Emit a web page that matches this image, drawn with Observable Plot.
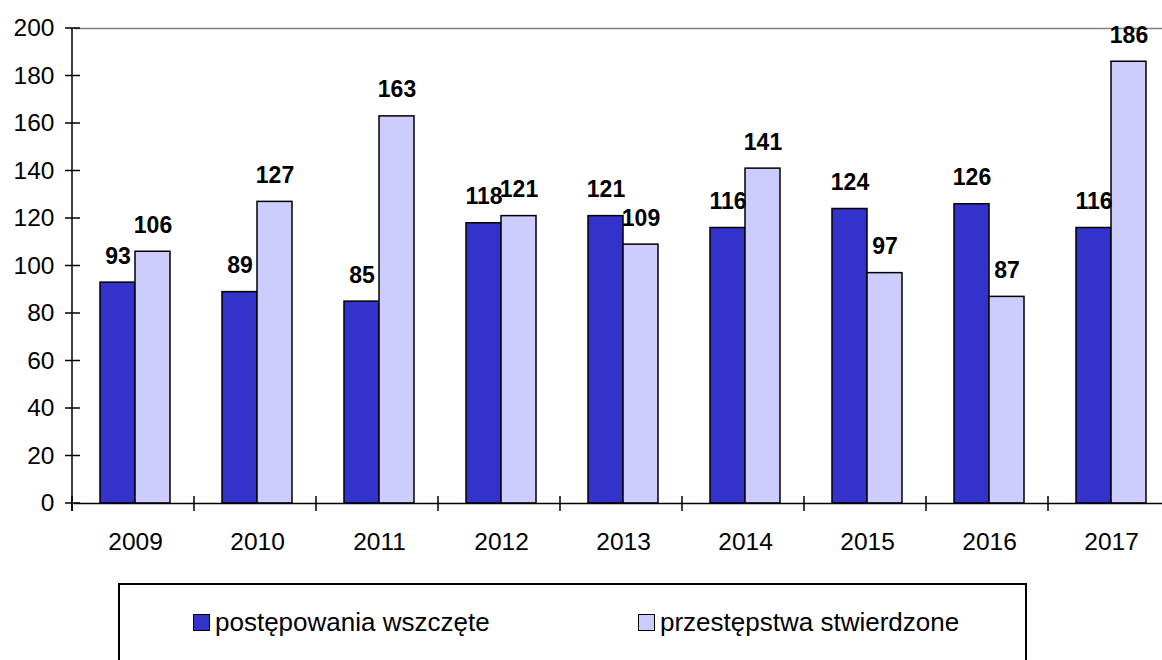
<!DOCTYPE html>
<html>
<head>
<meta charset="utf-8">
<script src="https://cdn.jsdelivr.net/npm/d3@7"></script>
<script src="https://cdn.jsdelivr.net/npm/@observablehq/plot@0.6"></script>
<style>
  html, body { margin: 0; padding: 0; background: #fff; overflow: hidden; width: 1162px; height: 660px; }
  #chart { position: absolute; left: 0; top: 0; }
  #legend { position: absolute; left: 118px; top: 583px; width: 905px; height: 120px; border: 2px solid #000; box-sizing: content-box; font-family: "Liberation Sans", Arial, sans-serif; font-size: 26px; color: #000; }
  .item { position: absolute; top: 22px; display: flex; align-items: center; white-space: nowrap; }
  .sw { width: 15px; height: 15px; border: 1.5px solid #000; margin-right: 5px; }
</style>
</head>
<body>
<div id="chart"></div>
<div id="legend"></div>
<script>
const years = ["2009", "2010", "2011", "2012", "2013", "2014", "2015", "2016", "2017"];
const seriesNames = ["postępowania wszczęte", "przestępstwa stwierdzone"];
const postepowania = [93, 89, 85, 118, 121, 116, 124, 126, 116];
const przestepstwa = [106, 127, 163, 121, 109, 141, 97, 87, 186];
const yTicks = [0, 20, 40, 60, 80, 100, 120, 140, 160, 180, 200];
const colors = ["#3333CC", "#CCCCFF"];

const data = years.flatMap((yr, i) => [
  {year: yr, series: seriesNames[0], value: postepowania[i]},
  {year: yr, series: seriesNames[1], value: przestepstwa[i]}
]);

const chart = Plot.plot({
  width: 1162,
  height: 570,
  marginLeft: 72,
  marginRight: -12.8,
  marginTop: 28,
  marginBottom: 67,
  style: {fontFamily: "'Liberation Sans', Arial, sans-serif", fontSize: "24px", color: "#000", background: "#fff", overflow: "visible"},
  fx: {domain: years, padding: 0, label: null},
  x: {domain: seriesNames, paddingInner: 0, paddingOuter: 0.726, axis: null},
  y: {domain: [0, 200], label: null},
  color: {domain: seriesNames, range: colors},
  marks: [
    Plot.ruleY([200], {stroke: "#808080", strokeWidth: 1.5}),
    Plot.barY(data, {fx: "year", x: "series", y: "value", fill: "series", stroke: "#000", strokeWidth: 1.5, inset: 0}),
    Plot.text(data, {fx: "year", x: "series", y: "value", text: d => String(d.value), fontWeight: "bold", fontSize: 23, lineAnchor: "bottom", dy: -19, fill: "#000"}),
    Plot.ruleY([0], {stroke: "#000", strokeWidth: 1.5}),
    Plot.axisY({ticks: yTicks, tickSize: 0, tickPadding: 20, label: null, fontSize: 24.5}),
    Plot.axisFx({anchor: "bottom", tickSize: 0, tickPadding: 29, label: null, fontSize: 24.5})
  ]
});

document.getElementById("chart").appendChild(chart);

// axis lines and ticks crossing the axes, positioned from the plot's own scales
const fx = chart.scale("fx");
const ys = chart.scale("y");
const yPos = v => ys.apply ? ys.apply(v) : ys.range[0] + (ys.range[1] - ys.range[0]) * v / 200;
const y0 = yPos(0);
const yTop = yPos(200);
const step = fx.step || (fx.range[1] - fx.range[0]) / fx.domain.length;
const x0 = fx.range[0];
const svg = d3.select(chart);
const g = svg.append("g").attr("stroke", "#000").attr("stroke-width", 1.5);
fx.domain.forEach((d, i) => {
  const x = x0 + i * step;
  g.append("line").attr("x1", x).attr("x2", x).attr("y1", y0 - 7).attr("y2", y0 + 8);
});
yTicks.forEach(t => {
  const y = yPos(t);
  g.append("line").attr("x1", x0 - 7).attr("x2", x0 + 8).attr("y1", y).attr("y2", y);
});
g.append("line").attr("x1", x0).attr("x2", x0).attr("y1", yTop).attr("y2", y0 + 8);

// legend
const legend = document.getElementById("legend");
const itemLefts = [73, 518];
seriesNames.forEach((s, i) => {
  const it = document.createElement("div");
  it.className = "item";
  it.style.left = itemLefts[i] + "px";
  const sw = document.createElement("div");
  sw.className = "sw";
  sw.style.background = colors[i];
  const t = document.createElement("span");
  t.textContent = s;
  it.appendChild(sw);
  it.appendChild(t);
  legend.appendChild(it);
});
</script>
</body>
</html>
